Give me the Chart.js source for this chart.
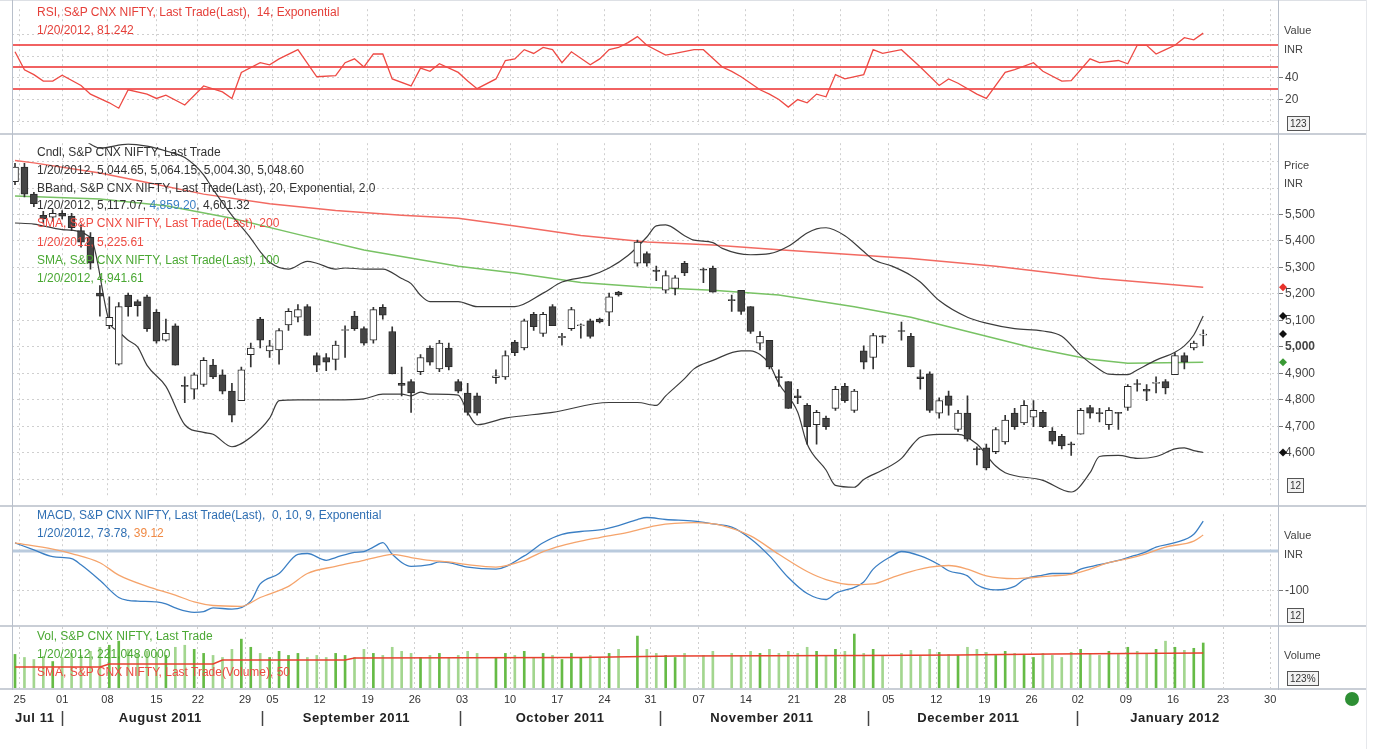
<!DOCTYPE html>
<html>
<head>
<meta charset="utf-8">
<title>S&amp;P CNX NIFTY</title>
<script src="https://cdn.jsdelivr.net/npm/chart.js@4.4.1/dist/chart.umd.min.js"></script>
<style>
  body { margin: 0; width: 1378px; height: 749px; background: #fff; overflow: hidden; position: relative;
         font-family: "Liberation Sans", Arial, sans-serif; }
  canvas { position: absolute; left: 0; }
  .txt { position: absolute; left: 37px; font-size: 12px; line-height: 14px; white-space: pre; }
  .ax { position: absolute; left: 1284px; font-size: 11px; line-height: 14px; color: #444; }
  .box { position: absolute; left: 1287px; border: 1px solid #555; background: #f2f2f2; font-size: 10px;
         line-height: 13px; padding: 0 2px; color: #333; }
  .hl { position: absolute; left: 0; width: 1366px; height: 2px; background: #c9ced6; }
  .vl { position: absolute; top: 0; width: 1px; background: #b8bfca; }
</style>
</head>
<body>
<canvas id="rsiChart" width="1378" height="134" style="top:0"></canvas>
<canvas id="priceChart" width="1378" height="372" style="top:134px"></canvas>
<canvas id="macdChart" width="1378" height="121" style="top:505px"></canvas>
<canvas id="volChart" width="1378" height="124" style="top:625px"></canvas>

<div class="hl" style="top:0;height:1px;background:#dde0e5"></div>
<div class="hl" style="top:133px"></div>
<div class="hl" style="top:505px"></div>
<div class="hl" style="top:625px"></div>
<div class="hl" style="top:688px"></div>
<div class="vl" style="left:12px;height:690px"></div>
<div class="vl" style="left:1278px;height:690px"></div>
<div class="vl" style="left:1366px;height:749px;background:#e6e8ec"></div>

<div class="txt" style="top:5px;color:#e5403a">RSI, S&amp;P CNX NIFTY, Last Trade(Last),  14, Exponential</div>
<div class="txt" style="top:23px;color:#e5403a">1/20/2012, 81.242</div>

<div class="txt" style="top:145px;color:#333">Cndl, S&amp;P CNX NIFTY, Last Trade</div>
<div class="txt" style="top:163px;color:#333">1/20/2012, 5,044.65, 5,064.15, 5,004.30, 5,048.60</div>
<div class="txt" style="top:181px;color:#333">BBand, S&amp;P CNX NIFTY, Last Trade(Last), 20, Exponential, 2.0</div>
<div class="txt" style="top:198px;color:#333">1/20/2012, 5,117.07, <span style="color:#3b7fc4">4,859.20</span>, 4,601.32</div>
<div class="txt" style="top:216px;color:#ee4a42">SMA, S&amp;P CNX NIFTY, Last Trade(Last), 200</div>
<div class="txt" style="top:235px;color:#ee4a42">1/20/2012, 5,225.61</div>
<div class="txt" style="top:253px;color:#4aa833">SMA, S&amp;P CNX NIFTY, Last Trade(Last), 100</div>
<div class="txt" style="top:271px;color:#4aa833">1/20/2012, 4,941.61</div>

<div class="txt" style="top:508px;color:#2f6fb3">MACD, S&amp;P CNX NIFTY, Last Trade(Last),  0, 10, 9, Exponential</div>
<div class="txt" style="top:526px;color:#2f6fb3">1/20/2012, 73.78, <span style="color:#f08a45">39.12</span></div>

<div class="txt" style="top:629px;color:#4aa833">Vol, S&amp;P CNX NIFTY, Last Trade</div>
<div class="txt" style="top:647px;color:#4aa833">1/20/2012, 221,048.0000</div>
<div class="txt" style="top:665px;color:#ee4a42">SMA, S&amp;P CNX NIFTY, Last Trade(Volume), 50</div>

<div class="ax" style="top:23px">Value</div>
<div class="ax" style="top:42px">INR</div>
<div class="ax" style="top:158px">Price</div>
<div class="ax" style="top:176px">INR</div>
<div class="ax" style="top:528px">Value</div>
<div class="ax" style="top:547px">INR</div>
<div class="ax" style="top:648px">Volume</div>
<div class="box" style="top:116px">123</div>
<div class="box" style="top:478px">12</div>
<div class="box" style="top:608px">12</div>
<div class="box" style="top:671px">123%</div>
<div style="position:absolute;left:1345px;top:692px;width:14px;height:14px;border-radius:50%;background:#2e8f34"></div>

<script>
// ---- axis labels ----
const dayLabels = ['25','01','08','15','22','29','05','12','19','26','03','10','17','24','31',
                   '07','14','21','28','05','12','19','26','02','09','16','23','30'];
const tickSession = [0.5,5,9.8,15,19.4,24.4,27.3,32.3,37.4,42.4,47.4,52.5,57.5,62.5,67.4,
                     72.5,77.5,82.6,87.5,92.6,97.7,102.8,107.8,112.7,117.8,122.8,128.1,133.1];
const monthNames = ['Jul 11','August 2011','September 2011','October 2011','November 2011','December 2011','January 2012'];
const monthCenter = [2.1,15.4,36.2,57.8,79.2,101.1,123];
const monthStart = [5,26.2,47.2,68.4,90.5,112.6];

// ---- candles (session number = trading slot from 25 Jul 2011) ----
const candleSession = [0,1,2,3,4,5,6,7,8,9,10,11,12,13,14,15,16,17,18,19,20,21,22,23,24,25,26,27,28,29,
  30,31,32,33,34,35,36,37,38,39,40,41,42,43,44,45,46,47,48,49,51,52,53,54,55,56,57,58,59,60,61,62,63,64,
  66,67,68,69,70,71,73,74,76,77,78,79,80,81,82,83,84,85,86,87,88,89,90,91,92,
  94,95,96,97,98,99,100,101,102,103,104,105,106,107,108,109,110,111,112,113,114,115,116,117,118,119,120,
  121,122,123,124,125,126];
const openP = [5624,5679,5577,5497,5490,5504,5494,5439,5414,5203,5080,4935,5196,5171,5189,5131,5025,5080,4855,4840,
  4858,4931,4895,4833,4797,4971,5105,4985,4989,5083,5112,5152,4967,4960,4953,5062,5116,5069,5025,5149,
  5058,4862,4869,4906,4996,4917,4996,4869,4826,4815,4884,4887,5018,4996,5123,5051,5152,5035,5069,5080,5098,5105,5131,5207,
  5316,5352,5290,5214,5221,5316,5294,5298,5178,5214,5152,5014,5025,4887,4869,4815,4779,4706,4731,4768,4851,4760,4985,4960,5040,
  5062,5040,4887,4898,4750,4815,4688,4750,4615,4619,4604,4641,4750,4713,4735,4753,4681,4662,4633,4670,4771,4752,4706,4750,4771,4860,4840,
  4862,4869,4895,4967,4996,5044.65];
const highP = [5693,5693,5584,5512,5519,5515,5504,5461,5432,5232,5189,5167,5203,5178,5196,5141,5105,5087,4887,4902,
  4960,4953,4913,4862,4924,5014,5112,5025,5069,5145,5160,5160,4978,4975,5022,5080,5134,5076,5149,5160,
  5076,4924,4877,4971,5004,5025,5014,4877,4862,4826,4913,4985,5025,5105,5131,5131,5160,5051,5149,5087,5105,5109,5203,5210,
  5403,5359,5305,5287,5269,5323,5298,5305,5196,5214,5152,5058,5025,4913,4869,4840,4786,4760,4739,4851,4862,4840,5004,5051,5043,
  5094,5051,4913,4906,4808,4833,4760,4815,4623,4633,4695,4742,4768,4797,4797,4760,4695,4670,4641,4768,4779,4768,4771,4753,4858,4877,4858,
  4887,4877,4978,4978,5022,5064.15];
const lowP = [5613,5566,5530,5468,5475,5483,5439,5377,5294,5116,5069,4931,5116,5116,5058,5014,5022,4931,4789,4804,
  4851,4880,4822,4717,4797,4924,4996,4960,4935,5062,5094,5043,4906,4910,4913,4960,5062,5007,5014,5105,
  4898,4815,4753,4895,4931,4906,4913,4826,4742,4742,4862,4877,4967,4989,5062,5040,5080,5007,5062,5033,5033,5091,5080,5192,
  5305,5305,5250,5203,5196,5269,5243,5207,5134,5123,5051,4989,4917,4851,4768,4786,4633,4633,4688,4760,4790,4753,4917,4917,5014,
  5025,4924,4840,4753,4731,4742,4681,4644,4554,4535,4597,4633,4688,4706,4699,4695,4633,4615,4590,4670,4731,4717,4688,4688,4760,4833,4797,
  4826,4822,4895,4917,4989,5004.30];
const closeP = [5679,5577,5541,5483,5504,5494,5450,5396,5316,5192,5112,5152,5152,5156,5069,5022,5051,4931,4851,4895,
  4949,4887,4833,4742,4913,4996,5025,5004,5062,5134,5141,5043,4931,4942,5007,5065,5069,5014,5141,5120,
  4898,4855,4826,4960,4942,5014,4924,4833,4753,4750,4891,4967,4978,5098,5076,5123,5080,5040,5141,5083,5040,5094,5189,5196,
  5396,5316,5285,5269,5261,5279,5290,5207,5175,5134,5058,5040,4924,4884,4768,4808,4699,4753,4699,4840,4797,4833,4942,5043,5038,
  5058,4924,4880,4760,4797,4779,4750,4652,4612,4543,4688,4724,4699,4779,4760,4699,4644,4626,4630,4760,4750,4748,4760,4749,4851,4858,4833,
  4865,4845,4967,4942,5014,5048.60];
const volume = [165000,150000,140000,155000,130000,150000,170000,160000,180000,200000,
  210000,230000,190000,170000,180000,175000,160000,200000,210000,190000,
  170000,160000,150000,190000,240000,200000,170000,150000,180000,160000,
  170000,150000,160000,150000,170000,160000,150000,190000,170000,160000,
  200000,180000,170000,150000,160000,170000,150000,160000,180000,170000,
  150000,170000,160000,180000,150000,170000,160000,140000,170000,150000,160000,150000,170000,190000,
  255000,190000,170000,160000,150000,170000,160000,180000,
  170000,160000,180000,170000,190000,170000,180000,170000,200000,180000,160000,190000,180000,265000,170000,190000,160000,
  170000,185000,160000,190000,175000,165000,160000,200000,190000,175000,160000,180000,170000,160000,150000,170000,160000,150000,175000,190000,
  170000,160000,180000,165000,200000,180000,170000,190000,230000,200000,185000,195000,221048];

// ---- indicator lines ----
const bbUpSession = [7,9,12,14,16,18,20,21,23,25,26,27,29,31,32,34,35,37,39,41,42,43,44,47,49,53,56,58,61,63,
  65,67,68,69,71,72,74,75,78,80,82,84,85,86,88,90,91,93,95,96,98,101,103,106,109,111,113,115,116,118,119,121,123,124,125,126];
const bbUpValue = [5790,5751,5766,5758,5740,5715,5650,5595,5497,5410,5360,5320,5294,5323,5316,5294,5298,5294,5294,5258,
  5239,5195,5171,5171,5152,5152,5203,5245,5269,5298,5345,5415,5457,5461,5420,5403,5394,5372,5348,5352,
  5380,5430,5446,5450,5420,5360,5330,5305,5270,5245,5175,5112,5090,5069,5060,5040,4968,4915,4897,4895,
  4913,4950,4980,5004,5045,5117.07];
const bbLoSession = [0,2,5,8,10,11,12,13,14,16,18,20,21,23,25,27,28,30,34,37,39,41,42,43,44,47,48,49,52,57,
  63,66,68,69,71,72,74,77,78,79,80,81,83,84,86,87,89,90,92,94,95,96,98,100,102,104,105,109,112,114,115,117,119,121,123,124,125,126];
const bbLoValue = [5468,5464,5443,5414,5094,5058,5025,5000,4930,4851,4706,4677,4670,4623,4659,4731,4797,4800,4800,4804,
  4822,4822,4815,4829,4822,4818,4753,4706,4731,4753,4790,4790,4779,4815,4880,4917,4949,4985,4985,4971,
  4935,4862,4753,4633,4535,4477,4470,4499,4535,4579,4623,4659,4670,4670,4633,4550,4525,4496,4452,4525,
  4586,4590,4579,4586,4615,4619,4608,4601.32];
const sma200Session = [0,2,9,14,20,27,34,41,47,53,60,67,74,81,89,95,104,115,126];
const sma200Value = [5704,5695,5657,5621,5577,5541,5515,5497,5486,5457,5421,5396,5385,5367,5348,5334,5305,5258,5225.61];
const sma100Session = [0,9,16,23,30,37,47,53,60,67,74,81,89,95,101,108,114,118,126];
const sma100Value = [5570,5559,5533,5486,5425,5366,5305,5279,5243,5225,5214,5196,5152,5112,5058,4996,4953,4938,4941.61];

const rsiSession = [0,1,2,3,4,5,7,8,10,11,12,14,15,16,18,20,22,23,24,26,27,28,30,32,34,35,36,37,38,39,40,42,43,44,45,
  47,48,49,51,52,53,54,55,56,57,58,59,61,62,63,64,65,66,67,69,70,72,73,75,76,77,79,80,81,82,83,84,85,86,87,88,
  90,91,92,94,96,98,99,100,102,103,105,106,108,109,111,112,114,115,117,118,119,120,121,122,123,124,125,126];
const rsiValue = [64,47.5,43,37,37,42.5,33,25,17,12,29,25,21,24,15,32.5,27,21,45,54,52,57.5,66,41,42,54,57.5,50,62,62,39,
  32.5,49,46,53,45,37,30,39,56,57.5,66,62.5,68,66,54,64,52,57.5,66,68,72.5,78,70,61,62.5,66,66,50,46,41,
  29,25,20,13,20,17,25,22.5,43,39,43,66,62.5,66,50,33,39,35,25,21,45,47.5,54,46,37,37.5,57.5,54,56,53,70,70,62,66,70,77,75,81.242];

const macdSession = [0,2,4,6,7,9,11,12,13,15,16,17,19,20,21,23,25,26,28,30,31,33,34,36,37,38,39,40,42,44,45,46,48,51,54,
  56,58,60,62,64,66,67,69,72,74,76,78,80,82,84,86,87,90,91,93,94,96,98,99,101,102,104,106,107,109,110,112,113,115,117,118,120,121,123,125,126];
const macdValue = [19.6,2,-15,-20,-35,-74,-117,-124,-126,-128,-133,-143,-154,-152,-143,-146,-126,-83,-57,-9,-7,-24,-17,-4,-2,9,20,-9,-39,-35,
  -28,-30,-41,-46,-13,20,41,48,52,63,78,83,78,74,67,59,30,-13,-67,-107,-122,-107,-78,-46,-13,-2,-13,-35,-50,-63,
  -85,-98,-89,-72,-61,-57,-57,-46,-35,-24,-17,-2,9,20,41,73.78];
const signalSession = [0,4,6,9,11,14,17,19,21,24,26,29,31,34,37,39,40,42,44,46,48,51,54,56,58,60,62,65,68,72,
  75,78,81,84,86,89,91,93,95,97,99,101,103,106,108,110,112,114,116,118,120,122,125,126];
const signalValue = [19.6,4,-7,-30,-61,-89,-111,-128,-137,-139,-117,-89,-57,-39,-24,-13,-9,-17,-24,-28,-35,-41,-24,-2,13,24,33,46,63,70,
  63,37,-9,-52,-72,-85,-83,-67,-52,-41,-37,-46,-63,-70,-67,-63,-59,-46,-30,-20,-7,9,24,39.12];

const volSmaSession = [0,9,10,21,22,35,36,60,70,90,100,110,126];
const volSmaValue = [103000,103000,118000,118000,137000,137000,147000,150000,157000,160000,162000,167000,172000];

// ---- helpers ----
const X_MIN = -0.32, X_MAX = 133.93;
const pts = (xs, ys) => xs.map((x, i) => ({ x, y: ys[i] }));
const isUp = i => closeP[i] >= openP[i];
const lastOf = a => a[a.length - 1];

Chart.defaults.font.family = '"Liberation Sans", Arial, sans-serif';
Chart.defaults.font.size = 11;
Chart.defaults.color = '#333';
Chart.defaults.elements.point.radius = 0;
Chart.defaults.plugins.legend.display = false;
Chart.defaults.plugins.tooltip.enabled = false;

function xAxis(showLabels) {
  return {
    type: 'linear', min: X_MIN, max: X_MAX, bounds: 'data', offset: false,
    afterBuildTicks: s => { s.ticks = tickSession.map(v => ({ value: v })); },
    afterFit: s => { s.paddingLeft = 0; s.paddingRight = 0; s.height = showLabels ? 61 : 0; },
    grid: { color: '#cfcfcf', drawTicks: false, offset: false },
    border: { display: false, dash: [2, 3] },
    ticks: { display: showLabels, autoSkip: false, maxRotation: 0, padding: 5, color: '#333',
             font: { size: 11 }, callback: (v, i) => dayLabels[i] }
  };
}

function yAxis(min, max, tickVals, labelFn) {
  const shown = c => c.tick && labelFn(c.tick.value);
  return {
    position: 'right', min, max, bounds: 'data',
    afterBuildTicks: s => { s.ticks = tickVals.map(v => ({ value: v })); },
    afterFit: s => { s.width = 100; },
    grid: { color: '#cfcfcf', tickLength: 5, tickColor: c => shown(c) ? '#777' : 'rgba(0,0,0,0)' },
    border: { display: false, dash: [2, 3] },
    ticks: { padding: 2, color: '#444', font: c => ({ size: 12, weight: c.tick && c.tick.value === 5000 ? 'bold' : 'normal' }),
             callback: v => labelFn(v) || '' }
  };
}

const refLines = {
  id: 'refLines',
  beforeDatasetsDraw(chart, args, opts) {
    const { ctx, chartArea: a } = chart, y = chart.scales.y;
    ctx.save();
    (opts.lines || []).forEach(l => {
      const py = Math.round(y.getPixelForValue(l.value));
      ctx.strokeStyle = l.color; ctx.lineWidth = l.width;
      ctx.beginPath(); ctx.moveTo(a.left, py); ctx.lineTo(a.right, py); ctx.stroke();
    });
    ctx.restore();
  }
};

// last-value diamonds just right of the plot, positioned through the y scale
const lastMarks = {
  id: 'lastMarks',
  afterDraw(chart, args, opts) {
    const { ctx, chartArea: a } = chart, y = chart.scales.y;
    ctx.save();
    (opts.marks || []).forEach(m => {
      const py = y.getPixelForValue(m.value), px = a.right + 5;
      ctx.fillStyle = m.color;
      ctx.beginPath();
      ctx.moveTo(px, py - 4); ctx.lineTo(px + 4, py); ctx.lineTo(px, py + 4); ctx.lineTo(px - 4, py);
      ctx.closePath(); ctx.fill();
    });
    ctx.restore();
  }
};

const monthRow = {
  id: 'monthRow',
  afterDraw(chart) {
    const { ctx, chartArea: a } = chart, x = chart.scales.x;
    ctx.save();
    ctx.font = 'bold 13px "Liberation Sans", Arial, sans-serif';
    if ('letterSpacing' in ctx) ctx.letterSpacing = '0.6px';
    ctx.fillStyle = '#222'; ctx.textAlign = 'center'; ctx.textBaseline = 'middle';
    monthNames.forEach((m, i) => ctx.fillText(m, x.getPixelForValue(monthCenter[i]), a.bottom + 30));
    ctx.strokeStyle = '#444'; ctx.lineWidth = 1.5;
    monthStart.forEach(s => {
      const px = Math.round(x.getPixelForValue(s)) + 0.5;
      ctx.beginPath(); ctx.moveTo(px, a.bottom + 23); ctx.lineTo(px, a.bottom + 38); ctx.stroke();
    });
    ctx.restore();
  }
};

const base = (padTop, padBottom) => ({
  responsive: false, animation: false, devicePixelRatio: 1,
  layout: { padding: { left: 12, right: 0, top: padTop, bottom: padBottom } }
});

// ---- RSI ----
new Chart(document.getElementById('rsiChart'), {
  type: 'line',
  data: { datasets: [{ data: pts(rsiSession, rsiValue), borderColor: '#ee4a44', borderWidth: 1.3, tension: 0 }] },
  options: Object.assign(base(3, 3), {
    scales: { x: xAxis(false), y: yAxis(-3.3, 103.3, [0, 20, 40, 60, 80], v => (v === 20 || v === 40) ? String(v) : '') },
    plugins: { refLines: { lines: [70, 50, 30].map(v => ({ value: v, color: 'rgba(238,70,70,0.85)', width: 2 })) } }
  }),
  plugins: [refLines]
});

// ---- Price ----
new Chart(document.getElementById('priceChart'), {
  type: 'bar',
  data: { datasets: [
    { type: 'line', data: pts(sma200Session, sma200Value), borderColor: '#f26a62', borderWidth: 1.5, order: 3 },
    { type: 'line', data: pts(sma100Session, sma100Value), borderColor: '#78c264', borderWidth: 1.5, order: 3 },
    { type: 'line', data: pts(bbUpSession, bbUpValue), borderColor: '#3c3c3c', borderWidth: 1.2, cubicInterpolationMode: 'monotone', order: 2 },
    { type: 'line', data: pts(bbLoSession, bbLoValue), borderColor: '#3c3c3c', borderWidth: 1.2, cubicInterpolationMode: 'monotone', order: 2 },
    { data: candleSession.map((s, i) => ({ x: s, y: [lowP[i], highP[i]] })), backgroundColor: '#333',
      barThickness: 1, grouped: false, order: 1 },
    { data: candleSession.map((s, i) => ({ x: s, y: [openP[i], closeP[i]] })),
      backgroundColor: c => isUp(c.dataIndex) ? '#ffffff' : '#454545', borderColor: '#2a2a2a', borderWidth: 1,
      borderSkipped: false, barThickness: 7, minBarLength: 1, grouped: false, order: 0 }
  ] },
  options: Object.assign(base(3, 1), {
    scales: { x: xAxis(false),
              y: yAxis(4433.9, 5769.3, [4500,4600,4700,4800,4900,5000,5100,5200,5300,5400,5500,5600,5700],
                       v => (v >= 4600 && v <= 5500) ? v.toLocaleString('en-US') : '') },
    plugins: { lastMarks: { marks: [
      { value: lastOf(sma200Value), color: '#e8322a' },
      { value: lastOf(bbUpValue), color: '#111' },
      { value: lastOf(closeP), color: '#111' },
      { value: lastOf(sma100Value), color: '#3a9a34' },
      { value: lastOf(bbLoValue), color: '#111' }
    ] } }
  }),
  plugins: [lastMarks]
});

// ---- MACD ----
new Chart(document.getElementById('macdChart'), {
  type: 'line',
  data: { datasets: [
    { data: pts(signalSession, signalValue), borderColor: '#f5a46c', borderWidth: 1.3, cubicInterpolationMode: 'monotone' },
    { data: pts(macdSession, macdValue), borderColor: '#3b7fc4', borderWidth: 1.3, cubicInterpolationMode: 'monotone' }
  ] },
  options: Object.assign(base(2, 1), {
    scales: { x: xAxis(false), y: yAxis(-165.2, 91.3, [-100], v => v === -100 ? '-100' : '') },
    plugins: { refLines: { lines: [{ value: 0, color: '#b9cadd', width: 3 }] } }
  }),
  plugins: [refLines]
});

// ---- Volume ----
new Chart(document.getElementById('volChart'), {
  type: 'bar',
  data: { datasets: [
    { type: 'line', data: pts(volSmaSession, volSmaValue), borderColor: '#e8402f', borderWidth: 1.5, order: 0 },
    { data: pts(candleSession, volume), backgroundColor: candleSession.map((s, i) => isUp(i) ? '#66bb46' : '#a3d68f'),
      barThickness: 2, order: 1 }
  ] },
  options: Object.assign(base(2, 0), {
    scales: { x: xAxis(true), y: Object.assign(yAxis(0, 299600, [], () => ''), { grid: { display: false } }) }
  }),
  plugins: [monthRow]
});
</script>
</body>
</html>
